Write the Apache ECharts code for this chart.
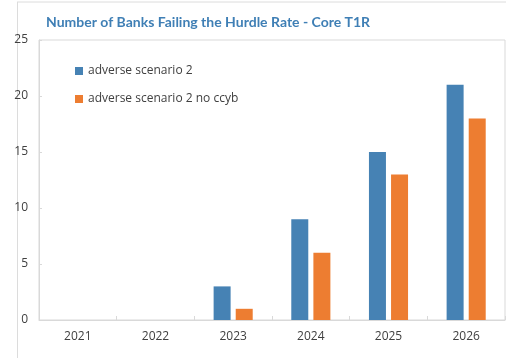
<!DOCTYPE html>
<html><head><meta charset="utf-8">
<script src="https://cdn.jsdelivr.net/npm/echarts@6/dist/echarts.min.js"></script>
<style>html,body{margin:0;padding:0;background:#fff}#c{width:506px;height:358px}</style>
</head><body><div id="c"></div>
<script>
var categories = ['2021','2022','2023','2024','2025','2026'];
var adverse2 = [0, 0, 3, 9, 15, 21];
var adverse2NoCcyb = [0, 0, 1, 6, 13, 18];
var seriesNames = ['adverse scenario 2', 'adverse scenario 2 no ccyb'];
var titleText = 'Number of Banks Failing the Hurdle Rate - Core T1R';

var chart = echarts.init(document.getElementById('c'), null, {renderer:'canvas'});
var font = 'Open Sans';
chart.setOption({
  animation:false,
  backgroundColor:'#fff',
  textStyle:{fontFamily:font},
  title:{text:titleText, left:41, top:10, textStyle:{color:'#3f7fb5', fontSize:14, fontWeight:'bold', fontFamily:'Lato'}},
  graphic:[
    {type:'line', shape:{x1:17,y1:2,x2:506,y2:2}, style:{stroke:'#dcdcdc', lineWidth:1}},
    {type:'line', shape:{x1:17.5,y1:2,x2:17.5,y2:358}, style:{stroke:'#dcdcdc', lineWidth:1}}
  ],
  legend:{orient:'vertical', left:70, top:60, itemWidth:8, itemHeight:8, itemGap:16,
    icon:'rect', textStyle:{color:'#404040', fontSize:12, fontFamily:font}, data:seriesNames},
  grid:{left:39, top:40, right:1, bottom:38, show:true, borderColor:'#d9d9d9', borderWidth:1},
  xAxis:{type:'category', data:categories,
    axisLine:{lineStyle:{color:'#d9d9d9'}},
    axisTick:{show:true, inside:true, length:4, lineStyle:{color:'#d9d9d9'}},
    axisLabel:{color:'#404040', fontSize:12, margin:11}},
  yAxis:{type:'value', min:0, max:25, interval:5,
    splitLine:{show:false},
    axisLine:{show:true, lineStyle:{color:'#d9d9d9'}},
    axisTick:{show:true, inside:true, length:3, lineStyle:{color:'#d9d9d9'}},
    axisLabel:{color:'#404040', fontSize:12, margin:11}},
  series:[
    {name:seriesNames[0], type:'bar', data:adverse2, barWidth:17, barGap:'30%',
      itemStyle:{color:'#4682b4'}},
    {name:seriesNames[1], type:'bar', data:adverse2NoCcyb, barWidth:17, barGap:'30%',
      itemStyle:{color:'#ed7d31'}}
  ]
});
</script></body></html>
